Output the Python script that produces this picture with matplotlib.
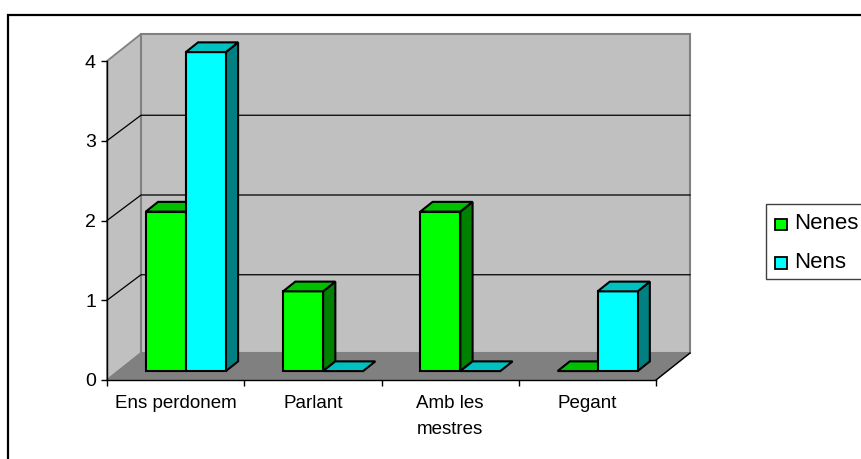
#!/usr/bin/env python3
import matplotlib
matplotlib.use('Agg')
import matplotlib.pyplot as plt
from matplotlib.patches import Polygon, Rectangle

categories = ['Ens perdonem', 'Parlant', 'Amb les\nmestres', 'Pegant']
nenes = [2, 1, 2, 0]
nens = [4, 0, 0, 1]
yticks = [0, 1, 2, 3, 4]

W, H = 861, 459
plt.rcParams['font.family'] = ['Liberation Sans', 'DejaVu Sans']

fig = plt.figure(figsize=(W / 100, H / 100), dpi=100)
ax = fig.add_axes([107 / W, (H - 380) / H, 549 / W, 319 / H])
ax.set_xlim(0, 4)
ax.set_ylim(0, 4)
ax.patch.set_visible(False)

# depth of the fake 3D box, in data units
DX = 34 / 137.25
DY = 27 / 79.75
GRID_DROP = 1.5 / 79.75


def at(x, y, d):
    return (x + d * DX, y + d * DY)


def poly(pts, face, edge='black', lw=1.5, z=2):
    ax.add_patch(Polygon(pts, closed=True, facecolor=face, edgecolor=edge,
                         lw=lw, zorder=z, clip_on=False, joinstyle='miter'))


# walls and floor
poly([at(0, 0, 0), at(0, 0, 1), at(0, 4, 1), at(0, 4, 0)], '#c0c0c0', '#808080', 1.3, 1)
poly([at(0, 0, 1), at(4, 0, 1), at(4, 4, 1), at(0, 4, 1)], '#c0c0c0', '#808080', 1.5, 1)
poly([at(0, 0, 0), at(4, 0, 0), at(4, 0, 1), at(0, 0, 1)], '#808080', '#808080', 1, 1)

# gridlines on the side wall and back wall
for v in yticks[1:-1]:
    ax.plot(*zip(at(0, v, 0), at(0, v - GRID_DROP, 1), at(4, v - GRID_DROP, 1)),
            color='black', lw=0.9, zorder=1.5, clip_on=False)
ax.plot(*zip(at(4, 0, 0), at(4, 0, 1)), color='black', lw=1, zorder=1.5, clip_on=False)

# bars
BAR_W = 40 / 137.25
D0, D1 = 0.33, 0.69
NUDGE = 1 / 137.25
series = [(nenes, '#00ff00', '#008000', '#00c000'),
          (nens, '#00ffff', '#008080', '#00c0c0')]
for i in range(len(categories)):
    left = i + 0.5 - BAR_W - NUDGE
    for j, (vals, front, side, top) in enumerate(series):
        x0 = left + j * BAR_W
        x1 = x0 + BAR_W
        v = vals[i]
        z = 3 + i + j * 0.1
        if v > 0:
            poly([at(x1, 0, D0), at(x1, 0, D1), at(x1, v, D1), at(x1, v, D0)], side, z=z)
            poly([at(x0, 0, D0), at(x1, 0, D0), at(x1, v, D0), at(x0, v, D0)], front, z=z)
        poly([at(x0, v, D0), at(x1, v, D0), at(x1, v, D1), at(x0, v, D1)], top, z=z)

# axes
for s in ['top', 'right']:
    ax.spines[s].set_visible(False)
for s in ['left', 'bottom']:
    ax.spines[s].set_linewidth(1.0)
    ax.spines[s].set_zorder(10)
ax.set_yticks(yticks)
ax.tick_params(axis='y', labelsize=14, length=4, width=1, pad=4)
ax.set_xticks(range(5))
ax.set_xticklabels([])
ax.set_xticks([i + 0.5 for i in range(4)], labels=categories, minor=True)
ax.tick_params(axis='x', which='major', length=4, width=1)
ax.tick_params(axis='x', which='minor', length=0, labelsize=13.5, pad=11)
for lab in ax.get_xticklabels(minor=True):
    lab.set_linespacing(1.7)

# outer chart border, runs off the right and bottom of the image
fig.add_artist(Rectangle((8 / W, -0.02), 1, (H - 15) / H + 0.02, transform=fig.transFigure,
                         facecolor='none', edgecolor='black', lw=1.6))

# legend box, also cut by the image edge
fig.add_artist(Rectangle((765.5 / W, (H - 279) / H), 0.2, 75 / H, transform=fig.transFigure,
                         facecolor='white', edgecolor='#404040', lw=1))
for name, col, py in [('Nenes', '#00ff00', 224.5), ('Nens', '#00ffff', 263)]:
    fig.add_artist(Rectangle((775 / W, (H - py - 5.5) / H), 12 / W, 11.5 / H,
                             transform=fig.transFigure, facecolor=col,
                             edgecolor='black', lw=1.3))
    fig.text(794 / W, (H - py + 1) / H, name, fontsize=16, va='center', ha='left')

fig.savefig('out.png', dpi=100)
